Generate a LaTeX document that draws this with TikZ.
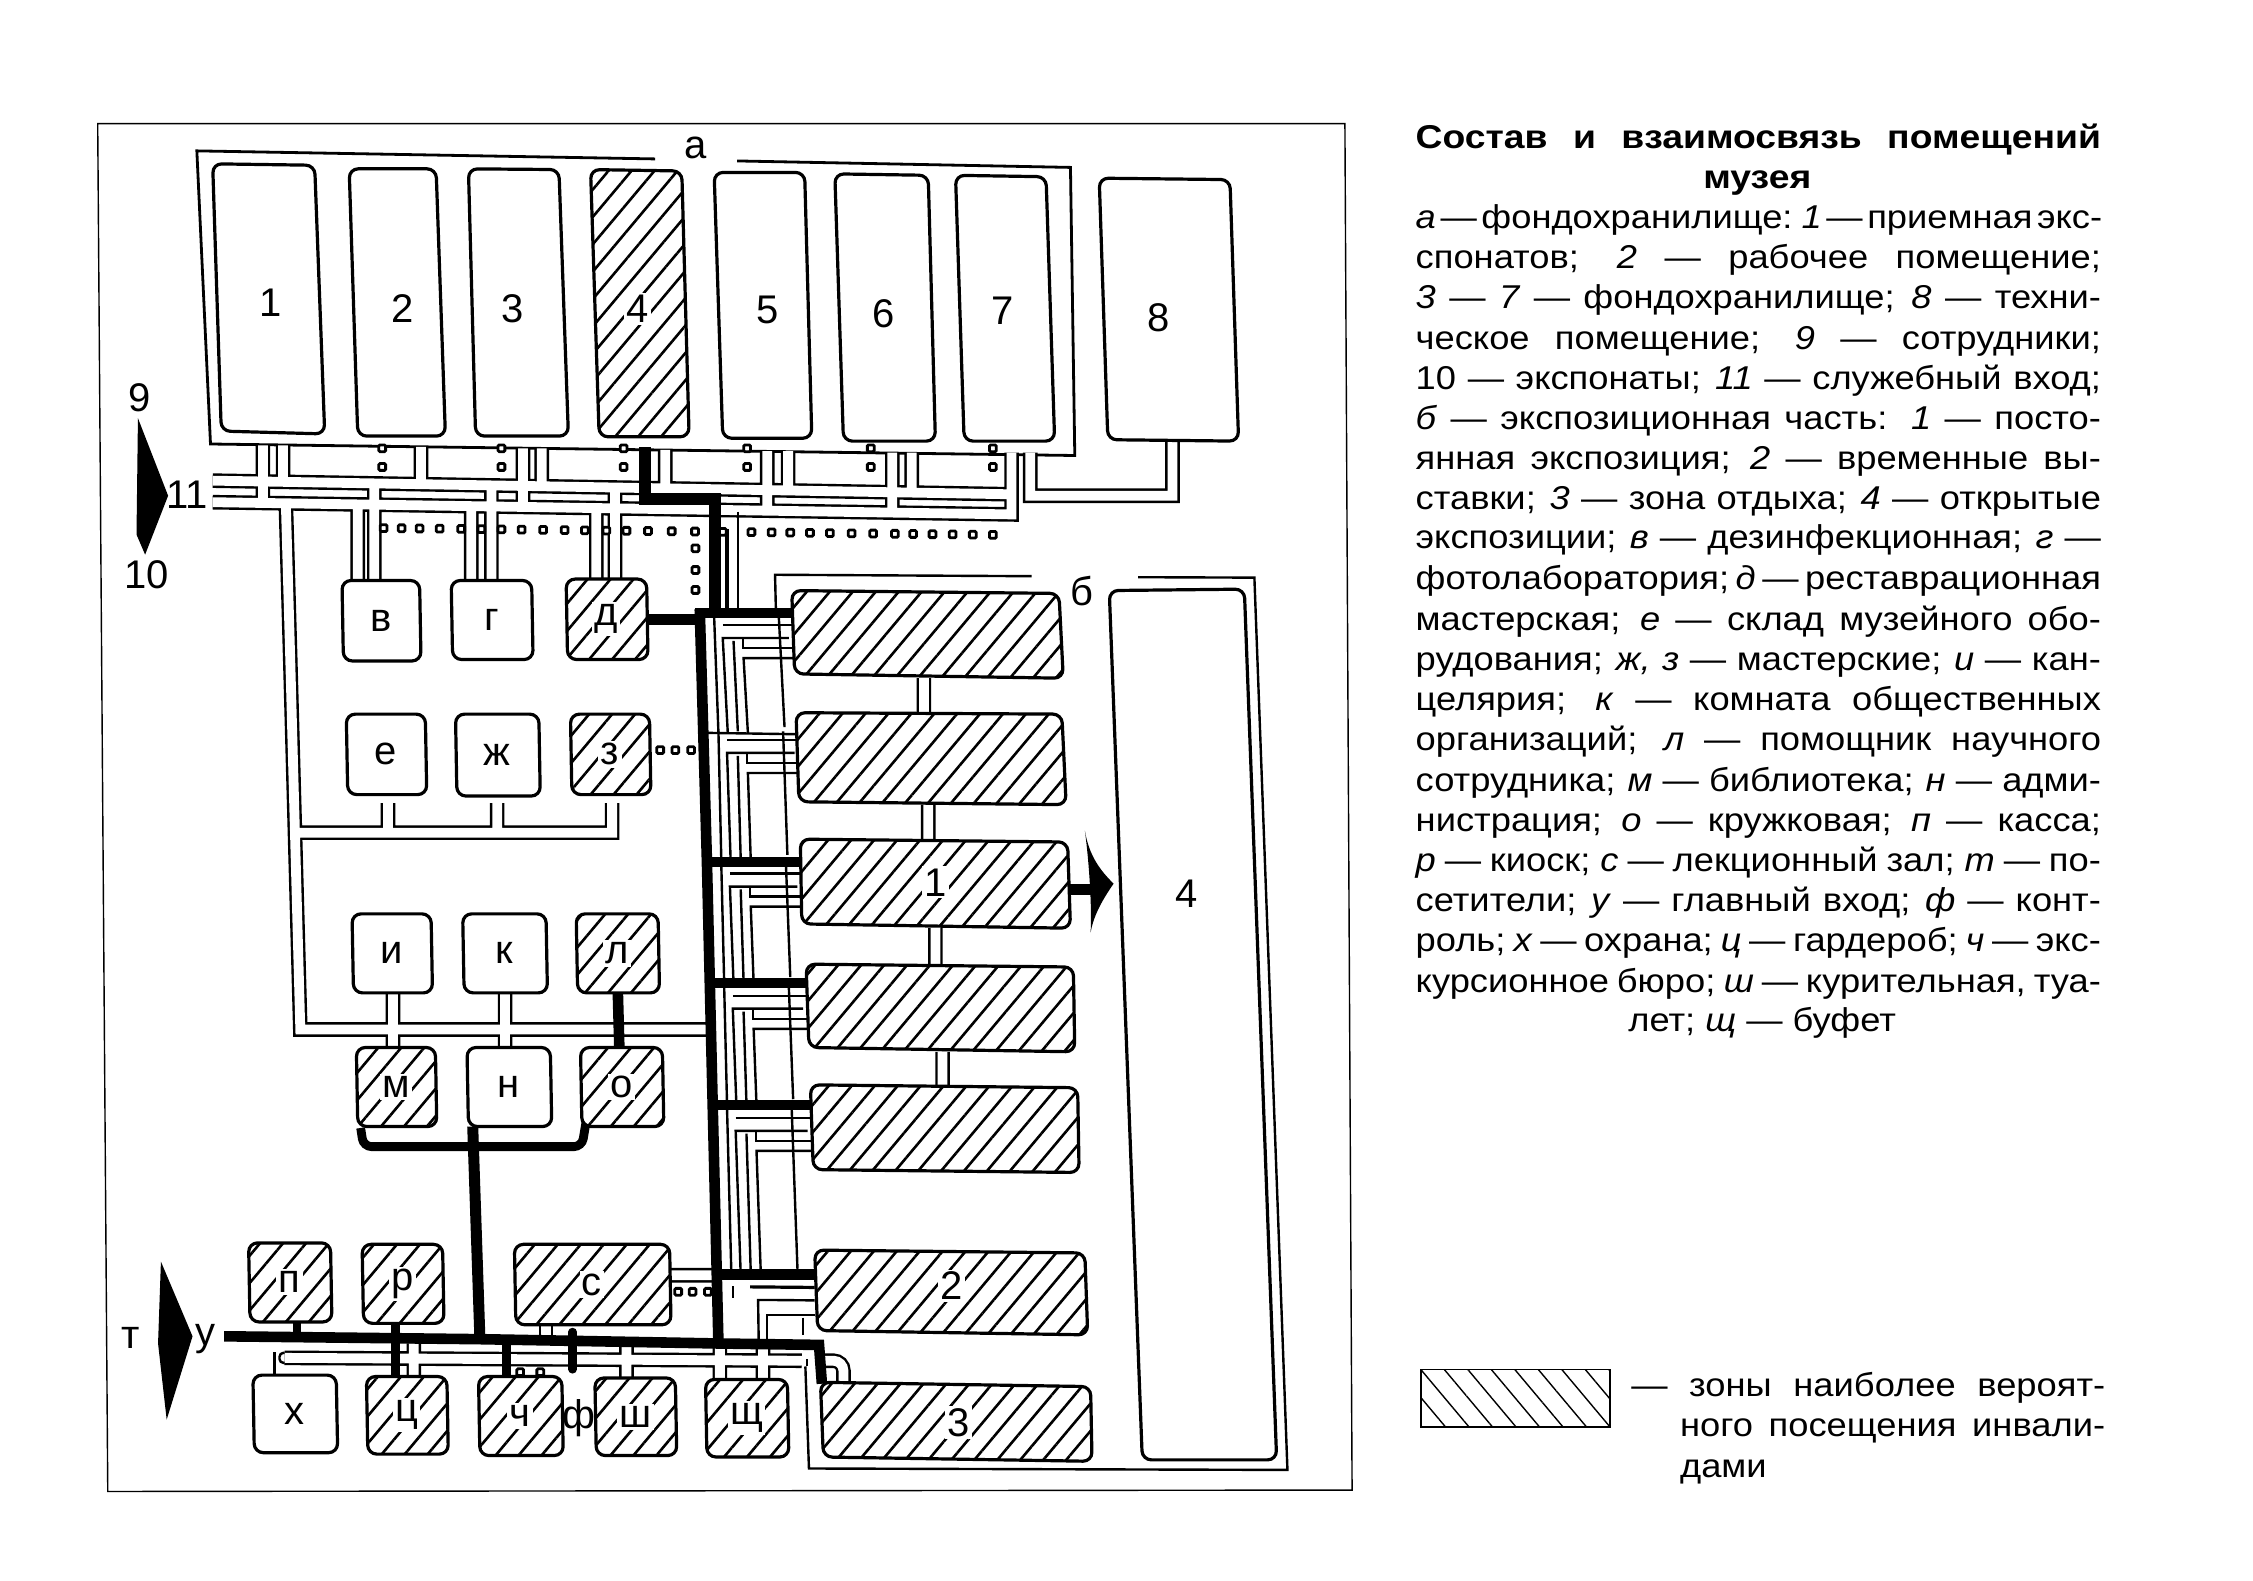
\documentclass[tikz,border=0pt]{standalone}
\usepackage{fontspec}
\setmainfont{Liberation Sans}
\newfontfamily\wfont[FakeStretch=1.1]{Liberation Sans}
\newfontfamily\tfont[FakeStretch=1.13]{Liberation Sans}
\usetikzlibrary{calc,patterns.meta}
\tikzset{
  plainroom/.style={draw=black,line width=1.6pt,fill=white,rounded corners=4.5pt},
  hatchroom/.style={draw=black,line width=1.6pt,rounded corners=4.5pt,preaction={fill=white},
    pattern={Lines[angle=50,distance=8.8pt,line width=1.3pt]},pattern color=black},
  lab/.style={inner sep=0.5pt,font=\fontsize{20}{22}\selectfont},
  hlab/.style={lab,fill=white,inner sep=1.2pt},
  corr/.style={draw=black,line width=1.2pt,double=white,double distance=4.9pt,line join=miter},
  wall/.style={draw=black,line width=1.2pt},
  frameline/.style={draw=black,line width=0.7pt},
  thick line/.style={draw=black,line width=5.3pt},
  dot/.style={draw=black,line width=1.4pt,rectangle,rounded corners=0.6pt,minimum size=3.4pt,inner sep=0pt,fill=white},
  txt/.style={inner sep=0pt,anchor=base west,font=\wfont\fontsize{16.5}{20}\selectfont},
}
\newcommand\rshape[6]{\draw[#1] #3 -- #4 -- #5 -- #6 -- cycle; \coordinate (#2) at ($#3!.5!#5$);}
\newcommand\srect[6]{\draw[#1] (#3,#4) -- (#5,#4) -- ($(#5,#6)+(1,0)$) -- ($(#3,#6)+(1,0)$) -- cycle; \coordinate (#2) at ($(#3,#4)!.5!(#5,#6)$);}
\newcommand\spreadline[2]{\makebox[#1][s]{\spaceskip=.2em plus 1em minus .06em #2}}
\newcommand\jl[3]{\node[txt] (#1) at (985,#2) {\spreadline{342.6pt}{#3}};}
\newcommand\wing[5]{% T, next T, x0, next x0, L
  \draw[wall] ($(#3,#1)+(16,9)$) -- (#5,#1+9);
  \draw[wall] ($(#4,#2)+(16.5,0)$) -- ($(#3,#1)+(16,18)$) -- (#5-3,#1+18);
  \draw[wall] ($(#4,#2)+(10,0)$) -- ($(#3,#1)+(10,3)$);
  \draw[wall] ($(#4,#2)+(23.5,-1)$) -- ($(#3,#1)+(23.5,20)$);
  \draw[wall] ($(#3,#1)+(30,18)$) -- ($(#3,#1)+(30,25)$) -- (#5,#1+25);
  \draw[wall] ($(#4,#2)+(30.5,0)$) -- ($(#3,#1)+(30.5,32)$) -- (#5,#1+32);
  \draw[wall] ($(#3,#1)+(55,3)$) -- ($(#4,#2)+(56,-4)$);
}
\begin{document}
\begin{tikzpicture}[x=0.7184pt,y=-0.7184pt]
\useasboundingbox (0,0) rectangle (1568,1100);
\fill[white] (0,0) rectangle (1568,1100);
% frame
\draw[frameline] (68,86) -- (936,86) -- (941,1037) -- (75,1038) -- cycle;
% building outlines
\draw[wall,line width=1.4pt] (456,110.6) -- (137,105) -- (146.5,309) -- (748,317) -- (745,116.5) -- (513,112);
\draw[wall] (540,425) -- (539.4,400) -- (718,401);
\draw[wall] (792,401.7) -- (873,402) -- (896,1023) -- (563,1022) -- (560.5,951);
% double-walled corridors
\draw[corr]
  (148,334.5) -- (704,344)
  (148,349.5) -- (704,358) -- (704,315)
  (717,315) -- (717,345) -- (816,345) -- (816,307)
  (183,310) -- (183,350) (197,310) -- (197,337)
  (293,311) -- (293,337) (364,312) -- (364,352) (377,312) -- (377,338)
  (463,313) -- (463,340) (534,314) -- (534,354) (548.5,314) -- (548.5,341)
  (621,315) -- (621,356) (634.5,315) -- (634.5,343)
  (260.5,338) -- (260.5,404) (342,340) -- (342,404) (428,341) -- (428,403)
  (249,352) -- (249,404) (328,353) -- (328,404) (415,354) -- (415,403)
  (199,353) -- (202,459) -- (209,716.5) -- (492,716.5)
  (205,579.5) -- (426,579.5) -- (426,559)
  (270,579) -- (270,559) (346,579) -- (346,559)
  (273.5,691) -- (273.5,729) (351.5,691) -- (351.5,729)
  (643,472) -- (643,497) (646,560) -- (646,584) (651,646) -- (651,671) (656,732) -- (656,755)
  (466,887.5) -- (497,887.5)
  (198,945) -- (558,947)
  (288,935) -- (288,958) (436,935) -- (436,959) (501,935) -- (501,960) (531,935) -- (531,960);
\draw[corr,rounded corners=5pt] (572,947) -- (587,947) -- (587,962);
\draw[corr] (380,922) -- (380,935);
\draw[wall] (191,941) -- (191,957);
\draw[wall,line width=1.8pt] (191,944) -- (191,952);
\draw[wall,rounded corners=2pt] (198,941.5) -- (194.5,941.5) -- (194.5,948.5) -- (198,948.5);
\draw[wall] (513.5,356) -- (513.5,425);
\draw[wall,line width=1.6pt] (506,368) -- (506,423);
\draw[wall] (561.7,951) -- (561.7,946);
% branch wings beside the blocks
\wing{426}{510}{487}{490}{552}
\wing{506}{599}{490}{492}{556}
\draw[wall] (490,510) -- (556,511);
\wing{599}{684}{492}{494}{558}
\wing{684}{769}{494}{496}{562}
\wing{769}{887}{496}{499}{565}
\draw[wall,line width=1.6pt] (522,895.6) -- (567,896);
\draw[wall] (528,932) -- (527.6,904.7) -- (533.6,904.7) -- (567,905);
\draw[wall] (533.6,932) -- (533.6,915) -- (567,915);
\draw[wall] (559,917) -- (559,929);
\draw[wall] (510,895) -- (510,903);
% thick routes
\draw[thick line,line width=6pt] (449,311) -- (449,347) -- (497.5,347) -- (497.5,425);
\draw[thick line] (484,426.5) -- (551,426.5);
\draw[thick line] (450,431) -- (487,431);
\draw[thick line] (487,424) -- (492,600) -- (496,769) -- (500,935);
\draw[thick line] (492,600) -- (556,600);
\draw[thick line] (494,684) -- (561,684);
\draw[thick line] (496,769) -- (564,769);
\draw[thick line] (499,887) -- (567,887);
\draw[thick line] (156,930) -- (334,932) -- (500,935) -- (570,936) -- (572,963);
\draw[thick line,line width=5.5pt] (329,784) -- (334,932);
\draw[thick line,line width=4.4pt,rounded corners=4pt] (251,785) -- (253,798) -- (405,798) -- (408,780);
\draw[thick line] (430,691) -- (431,728);
\draw[thick line,line width=4pt] (206.5,920) -- (206.5,930);
\draw[thick line,line width=4.5pt] (275,921) -- (275,958);
\draw[thick line,line width=4.5pt] (352.5,933) -- (352.5,958);
\draw[thick line,line width=4.2pt,line cap=round] (398.5,927) -- (398.5,953);
\draw[thick line] (745,619) -- (760,619);
% arrows
\fill[black] (755,578) .. controls (758,596) and (766,606) .. (775,615) .. controls (766,628) and (761,638) .. (759,649) .. controls (760,632) and (758,600) .. cycle;
\fill[black] (96,291) -- (117,345) -- (101,386) -- (95,372) -- cycle;
\fill[black] (112,878) -- (134,930) -- (116,988) -- (110,935) -- cycle;
% dots
\foreach \x [count=\i] in {267,279.5,292,306,321,335,349,363,378,393,407,422,436,451,467.5,483.7,503,523,537,550,563.7,577.6,592.7,607.7,622.8,635.5,649,663,677,691}{
  \pgfmathsetmacro\yy{367.5+(\x-267)*0.0112}
  \node[dot] (da\i) at (\x,\yy) {};
}
\foreach \y [count=\i] in {381.6,396.7,410.6}{ \node[dot] (db\i) at (484,\y) {}; }
\foreach \x [count=\i] in {266,349,434,520,606,691}{
  \node[dot] (dc\i) at (\x,312) {};
  \node[dot] (dd\i) at (\x,325) {};
}
\foreach \x [count=\i] in {459.5,470,481}{ \node[dot] (de\i) at (\x,522) {}; }
\foreach \x [count=\i] in {472,482,492.7}{ \node[dot] (df\i) at (\x,899) {}; }
\foreach \x [count=\i] in {362,376}{ \node[dot] (dg\i) at (\x,955) {}; }
% storage rooms
\rshape{plainroom}{r1}{(148,114)}{(219,115)}{(226,302)}{(154,300)}
\rshape{plainroom}{r2}{(243,117.5)}{(303.5,117.5)}{(310,303.5)}{(249,303.5)}
\rshape{plainroom}{r3}{(326,117.5)}{(389,118)}{(395.6,303.5)}{(331,303.5)}
\rshape{hatchroom}{r4}{(411,118)}{(474.5,119)}{(479.6,304)}{(417,304)}
\rshape{plainroom}{r5}{(497,120)}{(560,120)}{(565,305)}{(503,305)}
\rshape{plainroom}{r6}{(581,121)}{(646,122)}{(651,307)}{(587,307)}
\rshape{plainroom}{r7}{(665,122)}{(728,123)}{(734,307)}{(671,307)}
\rshape{plainroom}{r8}{(765,124)}{(856,125)}{(862,307)}{(771,306)}
% service rooms
\srect{plainroom}{rv}{238}{404}{292}{460}
\srect{plainroom}{rg}{314}{404}{370}{459}
\srect{hatchroom}{rd}{394}{403}{450}{459}
\srect{plainroom}{re}{241}{497}{296}{553}
\srect{plainroom}{rzh}{317}{497}{375}{554}
\srect{hatchroom}{rz}{397}{497}{452}{553}
\srect{plainroom}{ri}{245}{636}{300}{691}
\srect{plainroom}{rk}{322}{636}{380}{691}
\srect{hatchroom}{rl}{401}{636}{458}{691}
\srect{hatchroom}{rm}{248}{729}{303}{784}
\srect{plainroom}{rn}{325}{729}{383}{784}
\srect{hatchroom}{ro}{404}{729}{461}{784}
\srect{hatchroom}{rp}{173}{865}{230}{920}
\srect{hatchroom}{rr}{252}{866}{308}{921}
\srect{hatchroom}{rs}{358}{866}{466}{922}
\srect{plainroom}{rh}{176}{957}{234}{1011}
\srect{hatchroom}{rc}{255}{958}{311}{1012}
\srect{hatchroom}{rch}{333}{958}{391}{1013}
\srect{hatchroom}{rsh}{414}{959}{470}{1013}
\srect{hatchroom}{rsc}{491}{960}{548}{1014}
% exhibition blocks
\rshape{hatchroom}{b1}{(551,411)}{(737,413)}{(740,472)}{(553,469)}
\rshape{hatchroom}{b2}{(554,496)}{(739,497)}{(742,560)}{(556,558)}
\rshape{hatchroom}{b3}{(557,584)}{(743,586)}{(745,646)}{(558,643)}
\rshape{hatchroom}{b4}{(561,671)}{(747,673)}{(748,732)}{(563,729)}
\rshape{hatchroom}{b5}{(564,755)}{(750,757)}{(751,816)}{(566,814)}
\rshape{hatchroom}{b6}{(567,870)}{(755,872)}{(757,929)}{(569,926)}
\rshape{hatchroom}{b7}{(571,962)}{(759,965)}{(760,1017)}{(573,1014)}
\rshape{plainroom}{b8}{(772,411)}{(866,410)}{(888.5,1016)}{(795,1016)}
% labels
\node[lab] (n1) at (188,211) {1};
\node[lab] (n2) at (280,215) {2};
\node[lab] (n3) at (357,215) {3};
\node[hlab] (n4) at (444,215) {4};
\node[lab] (n5) at (534,216) {5};
\node[lab] (n6) at (615,218) {6};
\node[lab] (n7) at (698,216) {7};
\node[lab] (n8) at (806,221) {8};
\node[lab] (la) at (484,103) {а};
\node[lab] (lb) at (753,411) {б};
\node[lab] (l9) at (97,277) {9};
\node[lab] (l11) at (130,344) {11};
\node[lab] (l10) at (102,400) {10};
\node[lab] (nv) at (rv) {в};
\node[lab] (ng) at (rg) {г};
\node[hlab] (nd) at (rd) {д};
\node[lab] (ne) at (re) {е};
\node[lab] (nzh) at (rzh) {ж};
\node[hlab] (nz) at (rz) {з};
\node[lab] (ni) at (ri) {и};
\node[lab] (nk) at (rk) {к};
\node[hlab] (nl) at (rl) {л};
\node[hlab] (nm) at (rm) {м};
\node[lab] (nn) at (rn) {н};
\node[hlab] (no) at (ro) {о};
\node[hlab] (np) at (rp) {п};
\node[hlab] (nr) at (rr) {р};
\node[hlab] (ns) at (rs) {с};
\node[lab] (nh) at (rh) {х};
\node[hlab] (nc) at (rc) {ц};
\node[hlab] (nch) at (rch) {ч};
\node[hlab] (nsh) at (rsh) {ш};
\node[hlab] (nsc) at (rsc) {щ};
\node[hlab] (nb1) at (651,614) {1};
\node[hlab] (nb2) at (662,895) {2};
\node[hlab] (nb3) at (667,990) {3};
\node[lab] (nb4) at (826,622) {4};
\node[lab] (lt) at (91,931) {т};
\node[lab] (lu) at (143,932) {у};
\node[lab] (lf) at (403,987) {ф};
% right column
\node[inner sep=0pt,anchor=base west,font=\tfont\fontsize{16.5}{20}\bfseries] (t1) at (985,103) {\spreadline{342.6pt}{Состав и взаимосвязь помещений}};
\node[font=\tfont\fontsize{16.5}{20}\bfseries,inner sep=0pt,anchor=base] (t2) at (1223,131) {музея};
\jl{l1}{159}{\textit{а} — фондохранилище: \textit{1} — приемная экс-}
\jl{l2}{187}{спонатов; \textit{2} — рабочее помещение;}
\jl{l3}{215}{\textit{3} — \textit{7} — фондохранилище; \textit{8} — техни-}
\jl{l4}{243}{ческое помещение; \textit{9} — сотрудники;}
\jl{l5}{271}{10 — экспонаты; \textit{11} — служебный вход;}
\jl{l6}{299}{\textit{б} — экспозиционная часть: \textit{1} — посто-}
\jl{l7}{326.5}{янная экспозиция; \textit{2} — временные вы-}
\jl{l8}{354.5}{ставки; \textit{3} — зона отдыха; \textit{4} — открытые}
\jl{l9t}{382}{экспозиции; \textit{в} — дезинфекционная; \textit{г} —}
\jl{l10t}{410.5}{фотолаборатория; \textit{д} — реставрационная}
\jl{l11t}{438.5}{мастерская; \textit{е} — склад музейного обо-}
\jl{l12}{466.5}{рудования; \textit{ж, з} — мастерские; \textit{и} — кан-}
\jl{l13}{494.5}{целярия; \textit{к} — комната общественных}
\jl{l14}{522.5}{организаций; \textit{л} — помощник научного}
\jl{l15}{550.5}{сотрудника; \textit{м} — библиотека; \textit{н} — адми-}
\jl{l16}{578.5}{нистрация; \textit{о} — кружковая; \textit{п} — касса;}
\jl{l17}{606.5}{\textit{р} — киоск; \textit{с} — лекционный зал; \textit{т} — по-}
\jl{l18}{634.5}{сетители; \textit{у} — главный вход; \textit{ф} — конт-}
\jl{l19}{662.5}{роль; \textit{х} — охрана; \textit{ц} — гардероб; \textit{ч} — экс-}
\jl{l20}{690.5}{курсионное бюро; \textit{ш} — курительная, туа-}
\node[txt] (l21) at (1133,718) {лет; \textit{щ} — буфет};
% legend
\draw[black,line width=0.7pt,pattern={Lines[angle=130,distance=9pt,line width=0.7pt]},pattern color=black] (989,953) rectangle (1120.5,993);
\node[txt] (k0) at (1135,972) {\spreadline{237pt}{— зоны наиболее вероят-}};
\node[txt] (k1) at (1169,1000) {\spreadline{212.5pt}{ного посещения инвали-}};
\node[txt] (k2) at (1169,1028) {дами};
\end{tikzpicture}
\end{document}
